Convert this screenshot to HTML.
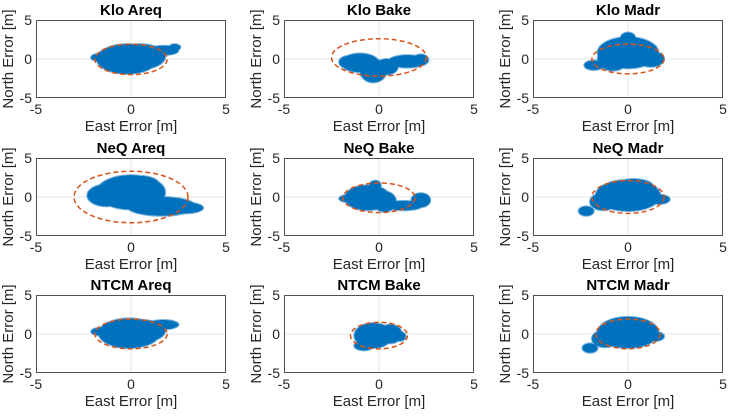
<!DOCTYPE html>
<html><head><meta charset="utf-8"><style>
html,body{margin:0;padding:0;background:#fff;}
svg{display:block;font-family:"Liberation Sans",Arial,sans-serif;}
</style></head><body>
<svg id="fig" width="732" height="416" viewBox="0 0 732 416"></svg>
<script>
const titles=["Klo Areq","Klo Bake","Klo Madr","NeQ Areq","NeQ Bake","NeQ Madr","NTCM Areq","NTCM Bake","NTCM Madr"];
const xTicks=[-5,0,5];
const yTicks=[-5,0,5];
// ellipse per panel: [cx, cy, rx, ry] in metres
const ellipses=[[0,-0.05,1.9,1.95],[0,0.2,2.5,2.4],[0,0,1.9,1.9],[0,0,3,3.3],[0,-0.1,1.9,1.9],[0,0,1.9,2.1],[0,0,1.9,1.9],[0,-0.2,1.5,1.7],[0,0,1.7,1.9]];
// point clouds as blobs [x, y, rx, ry]
const blobs=[
 [[-0.2,0,1.6,1.9],[0.5,0.3,1.3,1.6],[1.7,1.1,0.8,0.6],[2.3,1.5,0.3,0.4],[-1.6,0.2,0.5,0.5]],
 [[-1.0,-0.5,1.0,1.2],[-0.3,-1.5,0.7,1.5],[0.4,-1.0,0.6,1.0],[1.5,-0.3,1.0,0.8],[-1.6,-0.4,0.5,0.8],[2.2,-0.1,0.4,0.7]],
 [[0,0.8,1.6,2.0],[-0.8,0,0.8,1.5],[-1.8,-0.8,0.5,0.6],[1.2,0,0.7,1.0],[0,2.6,0.4,0.8]],
 [[0,0.6,1.8,2.2],[-1.3,0.2,1,1.4],[1.6,-1.2,1.8,1.2],[2.8,-1.4,1.0,0.7],[0.5,1.5,1.0,1.2]],
 [[-0.6,-0.1,1.2,1.6],[-1.5,-0.2,0.6,0.5],[0.3,-0.6,0.6,1.3],[1.3,-1.1,1.0,0.6],[2.2,-0.4,0.5,0.9],[-0.2,1.5,0.3,0.6]],
 [[0,0.2,1.7,2.0],[-1.3,-0.6,0.7,1.1],[-2.2,-1.8,0.4,0.6],[1.6,-0.3,0.6,0.6],[0.3,1.4,1,0.9]],
 [[-0.1,0.1,1.6,1.9],[0.6,0.4,1.2,1.4],[1.7,1.2,0.8,0.6],[-1.6,0.3,0.5,0.5]],
 [[-0.3,-0.2,1.0,1.6],[0.6,0,0.6,1.2],[-0.8,-1.5,0.5,0.6],[1.1,-0.3,0.3,0.6]],
 [[0,0.2,1.6,2.0],[-1.2,-0.6,0.7,1.1],[-2.0,-1.8,0.4,0.6],[1.4,-0.3,0.5,0.6]]
];
const NS="http://www.w3.org/2000/svg";
const svg=document.getElementById('fig');
const colL=[36,284,533], rowT=[20,158,295], W=190, H=78;
function mk(t,a,p){const e=document.createElementNS(NS,t);for(const k in a)e.setAttribute(k,a[k]);(p||svg).appendChild(e);return e;}
titles.forEach((title,i)=>{
  const L=colL[i%3], T=rowT[Math.floor(i/3)];
  const sx=v=>L+(v+5)/10*W, sy=v=>T+H-(v+5)/10*H;
  const kx=W/10, ky=H/10;
  const g=mk('g',{});
  
  
  mk('rect',{x:L,y:T,width:W,height:H,fill:'#fff'},g);
  const gx=mk('line',{x1:sx(0),x2:sx(0),y1:T,y2:T+H,stroke:'#e6e6e6','stroke-width':1},g);
  
  
  const gy=mk('line',{x1:L,x2:L+W,y1:sy(0),y2:sy(0),stroke:'#e6e6e6','stroke-width':1},g);
  
  
  const hg=mk('g',{fill:'#4f9ad2',stroke:'#7fb5de','stroke-width':2},g);
  
  
  const cg=mk('g',{fill:'#0072BD'},g);
  
  
  blobs[i].forEach(b=>{
    const h=mk('ellipse',{cx:sx(b[0]),cy:sy(b[1]),rx:b[2]*kx,ry:b[3]*ky},hg);
    
    
    const e=mk('ellipse',{cx:sx(b[0]),cy:sy(b[1]),rx:b[2]*kx,ry:b[3]*ky},cg);
    
    
  });
  const el=ellipses[i];
  const ee=mk('ellipse',{cx:sx(el[0]),cy:sy(el[1]),rx:el[2]*kx,ry:el[3]*ky,fill:'none',stroke:'#D95319','stroke-width':1.5,'stroke-dasharray':'5,3'},g);
  
  
  const bx=mk('rect',{x:L+0.5,y:T+0.5,width:W-1,height:H-1,fill:'none',stroke:'#262626','stroke-width':0.8},g);
  
  
  xTicks.forEach(v=>{
    const t=mk('text',{x:sx(v),y:T+H+16,'text-anchor':'middle','font-size':14,fill:'#262626'},g);
    t.textContent=v;
    
    
  });
  yTicks.forEach(v=>{
    const t=mk('text',{x:L-4,y:sy(v)+5,'text-anchor':'end','font-size':14,fill:'#262626'},g);
    t.textContent=v;
    
    
  });
  const tt=mk('text',{x:L+W/2,y:T-5,'text-anchor':'middle','font-size':15,'font-weight':'bold',fill:'#000'},g);
  tt.textContent=title;
  
  
  const xl=mk('text',{x:L+W/2,y:T+H+33,'text-anchor':'middle','font-size':15,fill:'#262626'},g);
  xl.textContent='East Error [m]';
  
  
  const yx=L-23, yy=T+H/2;
  const yl=mk('text',{x:yx,y:yy,'text-anchor':'middle','font-size':15,fill:'#262626',transform:`rotate(-90 ${yx} ${yy})`},g);
  yl.textContent='North Error [m]';
  
  
});
</script>
</body></html>
